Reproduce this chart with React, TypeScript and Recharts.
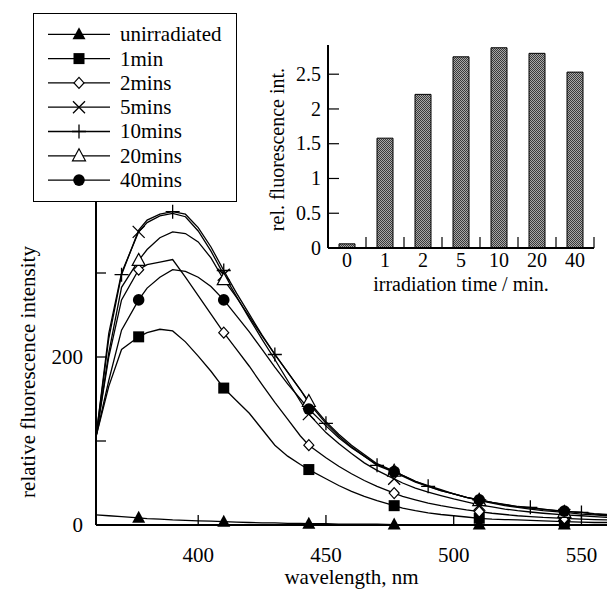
import React from 'react';
import { LineChart, Line, XAxis, YAxis, BarChart, Bar, Legend } from 'recharts';

// emission spectra (nm / relative intensity)
const wavelengths = [360, 365, 370, 376.7, 380, 385, 390, 395, 400, 405, 410, 415, 420, 425, 430, 435, 440, 443.3, 450, 455, 460, 465, 470, 476.7, 480, 485, 490, 495, 500, 505, 510, 515, 520, 525, 530, 535, 543.3, 550, 555, 560];
const unirradiated = [12, 11, 10, 8.5, 7.5, 7, 6, 5.5, 5, 4.5, 4, 3.5, 3, 2.5, 2.5, 2, 2, 1.5, 1.5, 1, 1, 1, 1, 0.5, 0.5, 0.5, 0.5, 0.5, 0.5, 0.5, 0.5, 0.5, 0.5, 0.5, 0.5, 0.5, 0.5, 0.5, 0.5, 0.5];
const min1 = [105, 165, 209, 224, 229, 233, 231, 218, 201, 183, 163, 148, 133, 114, 95, 82, 72, 66, 55, 47, 40, 34, 29, 23, 20, 17, 14.5, 12.5, 11, 9.5, 8, 7, 6.5, 6, 5.5, 5, 4, 3.5, 3, 3];
const min2 = [105, 200, 268, 304, 310, 313, 316, 295, 273, 251, 229, 209, 189, 167, 146, 126, 106, 95, 80, 70, 61, 53, 46, 38, 34, 30, 26, 23, 20.5, 18, 16, 14, 12.5, 11, 10, 9, 8, 7, 6.5, 6];
const min5 = [105, 228, 300, 349, 360, 368, 371, 367, 350, 326, 298, 272, 246, 221, 197, 172, 147, 132, 110, 97, 85, 74, 65, 55, 50, 44, 39, 35, 31, 27.5, 24, 21.5, 19, 17, 15.5, 14, 12, 11, 10, 9];
const min10 = [105, 222, 298, 351, 363, 370, 373, 370, 354, 331, 303, 276, 251, 226, 203, 182, 161, 145, 121, 106, 93, 82, 71, 63, 58, 51, 46, 41, 37, 33, 30, 27, 24, 22, 21, 19, 16, 15, 13, 12];
const min20 = [105, 205, 283, 315, 328, 342, 349, 347, 337, 318, 292, 271, 248, 225, 203, 182, 161, 147, 123, 108, 95, 84, 73, 64, 59, 52, 47, 42, 37, 33, 29, 26, 23, 21, 19, 17, 15, 13, 12, 11];
const min40 = [105, 172, 232, 268, 282, 295, 304, 302, 295, 284, 268, 249, 230, 209, 188, 168, 150, 138, 118, 104, 92, 82, 72, 63.5, 59, 52, 46, 41, 37, 33, 30, 27, 24.5, 22, 20, 18.5, 16.5, 15, 13.5, 12.5];

// where the symbols sit on each curve
const sixMarkerNm = [376.7, 410, 443.3, 476.7, 510, 543.3];
const tenMarkerNm = [370, 390, 410, 430, 450, 470, 490, 510, 530, 550];

const xTicks = [400, 450, 500, 550];
const yTicks = [0, 100, 200, 300, 400];
const yLabelled = [0, 200, 400];

// inset: relative intensity vs irradiation time
const irradiationTimes = ['0', '1', '2', '5', '10', '20', '40'];
const relIntensity = [0.06, 1.58, 2.21, 2.75, 2.88, 2.8, 2.53];
const insetYTicks = [0, 0.5, 1, 1.5, 2, 2.5];

const FONT = "'Liberation Serif', 'DejaVu Serif', serif";
const txt = { fontFamily: FONT, fontSize: 21, fill: '#000' };
const insetTxt = { fontFamily: FONT, fontSize: 20, fill: '#000' };

const series = [
  { key: 'u', name: 'unirradiated', values: unirradiated, shape: 'triFill', marks: sixMarkerNm },
  { key: 'm1', name: '1min', values: min1, shape: 'square', marks: sixMarkerNm },
  { key: 'm2', name: '2mins', values: min2, shape: 'diamond', marks: sixMarkerNm },
  { key: 'm5', name: '5mins', values: min5, shape: 'cross', marks: sixMarkerNm },
  { key: 'm10', name: '10mins', values: min10, shape: 'plus', marks: tenMarkerNm },
  { key: 'm20', name: '20mins', values: min20, shape: 'triOpen', marks: sixMarkerNm },
  { key: 'm40', name: '40mins', values: min40, shape: 'circle', marks: sixMarkerNm },
];

const lineData = wavelengths.map((nm, i) => {
  const row: Record<string, number> = { nm };
  series.forEach((s) => (row[s.key] = s.values[i]));
  return row;
});

const barData = irradiationTimes.map((t, i) => ({ time: t, rel: relIntensity[i] }));

function Marker({ shape, cx, cy }: { shape: string; cx: number; cy: number }) {
  switch (shape) {
    case 'triFill':
      return <polygon points={`${cx},${cy - 7} ${cx + 6.5},${cy + 5} ${cx - 6.5},${cy + 5}`} fill="#000" />;
    case 'triOpen':
      return <polygon points={`${cx},${cy - 7} ${cx + 6.5},${cy + 5} ${cx - 6.5},${cy + 5}`} fill="#fff" stroke="#000" strokeWidth={1.2} />;
    case 'square':
      return <rect x={cx - 5.5} y={cy - 5.5} width={11} height={11} fill="#000" />;
    case 'diamond':
      return <polygon points={`${cx},${cy - 5.5} ${cx + 5},${cy} ${cx},${cy + 5.5} ${cx - 5},${cy}`} fill="#fff" stroke="#000" strokeWidth={1.2} />;
    case 'cross':
      return <path d={`M${cx - 6},${cy - 6}L${cx + 6},${cy + 6}M${cx - 6},${cy + 6}L${cx + 6},${cy - 6}`} stroke="#000" strokeWidth={1.3} fill="none" />;
    case 'plus':
      return <path d={`M${cx - 7},${cy}L${cx + 7},${cy}M${cx},${cy - 7}L${cx},${cy + 7}`} stroke="#000" strokeWidth={1.3} fill="none" />;
    default:
      return <circle cx={cx} cy={cy} r={5.8} fill="#000" />;
  }
}

const makeDot = (s: (typeof series)[number]) => (props: any) => {
  const { cx, cy, payload, index } = props;
  if (!s.marks.includes(payload.nm)) return <g key={`${s.key}-${index}`} />;
  return (
    <g key={`${s.key}-${index}`}>
      <Marker shape={s.shape} cx={cx} cy={cy} />
    </g>
  );
};

// ticks drawn inward, labels outside
const MainXTick = (props: any) => {
  const { x, y, payload } = props;
  const axisY = y - 37;
  return (
    <g>
      <line x1={x} x2={x} y1={axisY} y2={axisY - 10} stroke="#000" strokeWidth={1.3} />
      <text x={x} y={y} textAnchor="middle" style={txt}>{payload.value}</text>
    </g>
  );
};

const MainYTick = (props: any) => {
  const { x, y, payload } = props;
  const axisX = x + 13;
  return (
    <g>
      <line x1={axisX} x2={axisX + 10} y1={y} y2={y} stroke="#000" strokeWidth={1.3} />
      {yLabelled.includes(payload.value) && (
        <text x={x} y={y} dy="0.33em" textAnchor="end" style={txt}>{payload.value}</text>
      )}
    </g>
  );
};

const InsetXTick = (props: any) => {
  const { x, y, payload } = props;
  const axisY = y - 19;
  const edge = x + (payload.offset || 0);
  return (
    <g>
      <line x1={edge} x2={edge} y1={axisY} y2={axisY - 11} stroke="#000" strokeWidth={1.2} />
      <text x={x} y={y} textAnchor="middle" style={insetTxt}>{payload.value}</text>
    </g>
  );
};

const InsetYTick = (props: any) => {
  const { x, y, payload } = props;
  const axisX = x + 7;
  return (
    <g>
      <line x1={axisX} x2={axisX + 11} y1={y} y2={y} stroke="#000" strokeWidth={1.2} />
      <text x={x} y={y} dy="0.33em" textAnchor="end" style={insetTxt}>{payload.value}</text>
    </g>
  );
};

const mainXLabel = (props: any) => {
  const vb = props.viewBox;
  return (
    <text x={vb.x + vb.width / 2} y={vb.y + 59} textAnchor="middle" style={txt}>
      wavelength, nm
    </text>
  );
};

const mainYLabel = (props: any) => {
  const vb = props.viewBox;
  const cx = vb.x - 8;
  const cy = vb.y + vb.height / 2 + 15;
  return (
    <text x={cx} y={cy} transform={`rotate(-90, ${cx}, ${cy})`} textAnchor="middle" dominantBaseline="central" style={txt}>
      relative fluorescence intensity
    </text>
  );
};

const insetXLabel = (props: any) => {
  const vb = props.viewBox;
  return (
    <text x={vb.x + vb.width / 2} y={vb.y + 43} textAnchor="middle" style={insetTxt}>
      irradiation time / min.
    </text>
  );
};

const insetYLabel = (props: any) => {
  const vb = props.viewBox;
  const cx = vb.x + 9;
  const cy = vb.y + vb.height / 2 + 3;
  return (
    <text x={cx} y={cy} transform={`rotate(-90, ${cx}, ${cy})`} textAnchor="middle" dominantBaseline="central" style={insetTxt}>
      rel. fluorescence int.
    </text>
  );
};

const renderLegend = () => (
  <div style={{ width: 204, height: 189, border: '1px solid #000', background: '#fff', boxSizing: 'border-box' }}>
    <svg width={202} height={187}>
      {series.map((s, i) => {
        const y = 20.3 + i * 24.3;
        return (
          <g key={s.key}>
            <line x1={14} x2={76} y1={y} y2={y} stroke="#000" strokeWidth={1.3} />
            <Marker shape={s.shape} cx={45} cy={y} />
            <text x={86} y={y} dy="0.33em" style={txt}>{s.name}</text>
          </g>
        );
      })}
    </svg>
  </div>
);

const axisLine = { stroke: '#000', strokeWidth: 2 };

export default function App() {
  return (
    <div style={{ position: 'relative', width: 608, height: 590, background: '#fff', fontFamily: FONT }}>
      <style>{'body{margin:0}'}</style>
      <div style={{ position: 'absolute', left: 0, top: 0 }}>
        <LineChart width={608} height={590} data={lineData} margin={{ top: 189, right: 1, bottom: 0, left: 36 }}>
          <XAxis
            dataKey="nm"
            type="number"
            domain={[360, 560]}
            ticks={xTicks}
            allowDataOverflow
            height={65}
            tick={MainXTick}
            tickLine={false}
            tickSize={0}
            tickMargin={37}
            axisLine={axisLine}
            label={mainXLabel}
          />
          <YAxis
            type="number"
            domain={[0, 400]}
            ticks={yTicks}
            width={60}
            tick={MainYTick}
            tickLine={false}
            tickSize={0}
            tickMargin={13}
            axisLine={axisLine}
            label={mainYLabel}
          />
          {series.map((s) => (
            <Line
              key={s.key}
              dataKey={s.key}
              type="linear"
              stroke="#000"
              strokeWidth={1.3}
              dot={makeDot(s)}
              activeDot={false}
              isAnimationActive={false}
            />
          ))}
          <Legend
            content={renderLegend}
            layout="vertical"
            align="center"
            verticalAlign="middle"
            wrapperStyle={{ left: 33, top: 13, width: 204, height: 189 }}
          />
        </LineChart>
      </div>
      <div style={{ position: 'absolute', left: 0, top: 0 }}>
        <BarChart width={608} height={300} data={barData} margin={{ top: 45, right: 14, bottom: 0, left: 268 }}>
          <defs>
            <pattern id="stipple" width={2} height={2} patternUnits="userSpaceOnUse">
              <rect width={2} height={2} fill="#a8a8a8" />
              <rect width={1} height={1} fill="#3a3a3a" />
              <rect x={1} y={1} width={1} height={1} fill="#3a3a3a" />
            </pattern>
          </defs>
          <XAxis
            dataKey="time"
            type="category"
            height={52}
            tick={InsetXTick}
            tickLine={false}
            tickSize={0}
            tickMargin={19}
            axisLine={axisLine}
            label={insetXLabel}
          />
          <YAxis
            type="number"
            domain={[0, 2.92]}
            ticks={insetYTicks}
            width={60}
            tick={InsetYTick}
            tickLine={false}
            tickSize={0}
            tickMargin={7}
            axisLine={axisLine}
            label={insetYLabel}
          />
          <Bar dataKey="rel" barSize={16} fill="url(#stipple)" stroke="#000" strokeWidth={1} isAnimationActive={false} />
        </BarChart>
      </div>
    </div>
  );
}
